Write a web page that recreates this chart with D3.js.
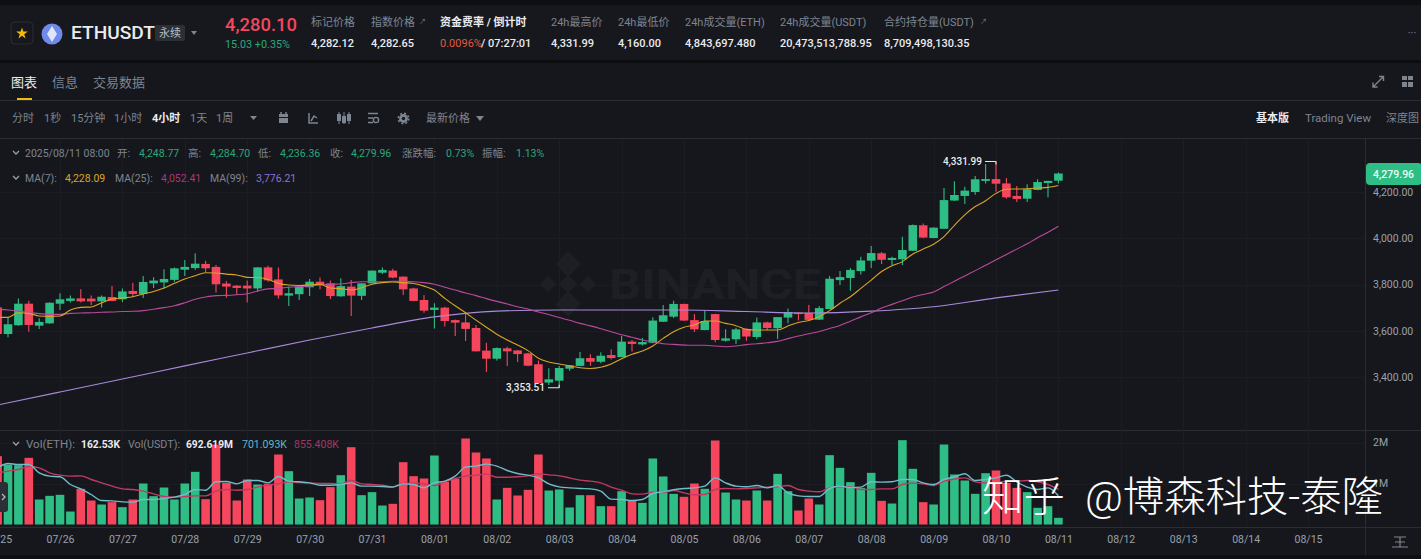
<!DOCTYPE html>
<html>
<head>
<meta charset="utf-8">
<script src="https://cdn.jsdelivr.net/npm/d3@7"></script>
<style>
html,body{margin:0;padding:0;background:#16171d;overflow:hidden}
svg{display:block}
text{font-family:Roboto,'Noto Sans CJK SC',sans-serif}
</style>
</head>
<body>
<div id="chart"></div>
<script>
// Data ======================================================
const opens = [3701,3586,3624,3717,3622,3632,3717,3729,3740,3739,3727,3746,3736,3772,3759,3805,3809,3820,3864,3871,
  3889,3876,3804,3795,3795,3783,3874,3822,3752,3758,3788,3812,3805,3749,3791,3751,3805,3851,3860,3834,
  3783,3733,3690,3700,3646,3636,3612,3514,3479,3524,3515,3502,3455,3376,3384,3436,3448,3482,3466,3495,
  3486,3553,3541,3548,3639,3661,3716,3646,3603,3672,3557,3563,3608,3573,3636,3611,3657,3678,3677,3648,
  3694,3819,3828,3858,3903,3935,3906,3909,3946,4056,4001,4041,4163,4183,4200,4248,4256,4237,4183,4171,
  4209,4239,4248.77];
const highs = [3705,3658,3740,3730,3654,3723,3762,3752,3779,3752,3752,3793,3783,3808,3837,3831,3866,3874,3906,3935,
  3903,3884,3815,3798,3817,3875,3881,3874,3791,3793,3824,3830,3817,3827,3819,3805,3861,3874,3868,3835,
  3786,3755,3719,3704,3649,3672,3625,3548,3528,3531,3517,3505,3471,3438,3448,3451,3508,3498,3507,3520,
  3577,3560,3569,3658,3711,3730,3717,3672,3687,3673,3606,3613,3609,3657,3639,3660,3696,3679,3711,3707,
  3837,3858,3871,3920,3966,3941,3920,4007,4060,4064,4047,4217,4246,4223,4269,4321,4331.99,4261,4226,4233,
  4255,4249,4284.70];
const lows = [3580,3572,3622,3596,3608,3630,3690,3722,3722,3711,3701,3728,3724,3747,3742,3785,3782,3812,3837,3863,
  3854,3765,3743,3756,3722,3769,3812,3740,3707,3733,3750,3779,3737,3747,3664,3733,3804,3845,3827,3755,
  3728,3678,3610,3618,3577,3556,3510,3422,3471,3448,3465,3447,3372,3365,3353.51,3427,3447,3449,3459,3476,
  3485,3510,3536,3546,3638,3655,3642,3595,3602,3550,3554,3543,3557,3563,3602,3564,3632,3644,3644,3647,
  3693,3798,3773,3843,3871,3889,3884,3884,3945,4000,4000,4040,4161,4148,4188,4237,4201,4171,4157,4157,
  4208,4177,4236.36];
const closes = [3586,3628,3717,3625,3638,3721,3736,3740,3727,3727,3747,3729,3770,3759,3811,3817,3824,3870,3876,3890,
  3870,3801,3791,3785,3783,3874,3818,3753,3762,3791,3812,3799,3750,3793,3752,3805,3860,3863,3830,3779,
  3729,3687,3700,3642,3635,3608,3511,3479,3525,3511,3499,3449,3373,3390,3439,3450,3481,3466,3492,3482,
  3553,3543,3551,3644,3667,3716,3644,3606,3642,3560,3567,3606,3575,3636,3612,3659,3681,3672,3647,3698,
  3825,3832,3863,3904,3936,3907,3915,3949,4057,4003,4046,4165,4187,4206,4255,4256,4236,4177,4170,4212,
  4243,4248,4279.96];
const ma7 = [3658,3658,3678,3675,3664,3662,3664,3690,3701,3703,3721,3737,3742,3747,3759,3770,3785,3805,3824,3838,
  3851,3850,3845,3841,3831,3830,3822,3805,3798,3796,3798,3801,3785,3782,3776,3786,3801,3808,3811,3808,
  3804,3793,3776,3740,3708,3678,3646,3615,3585,3560,3538,3514,3481,3465,3456,3448,3440,3437,3442,3456,
  3479,3498,3512,3534,3567,3596,3615,3625,3642,3642,3632,3622,3606,3603,3603,3603,3621,3636,3644,3661,
  3687,3719,3747,3783,3819,3856,3881,3899,3932,3953,3974,4007,4056,4101,4137,4162,4194,4212,4213,4214,
  4217,4220,4228.09];
const ma25 = [3693,3690,3685,3680,3674,3671,3671,3675,3677,3678,3680,3681,3683,3684,3687,3693,3700,3708,3721,3736,
  3746,3752,3753,3756,3760,3772,3781,3783,3788,3791,3794,3798,3801,3802,3808,3812,3812,3812,3814,3814,
  3812,3808,3801,3788,3776,3763,3752,3739,3727,3716,3704,3694,3681,3670,3657,3645,3632,3621,3609,3596,
  3583,3572,3560,3551,3544,3541,3538,3537,3537,3534,3531,3534,3540,3544,3548,3554,3566,3577,3587,3597,
  3610,3623,3641,3660,3678,3698,3714,3730,3746,3757,3768,3791,3814,3837,3860,3883,3907,3930,3953,3976,
  4002,4026,4052.41];
// MA(99) read every sixth candle
const ma99Index = [0,6,12,18,24,30,36,42,48,54,60,66,72,78,84,90,96,102];
const ma99 = [3279,3335,3391,3448,3504,3560,3612,3660,3685,3690,3690,3690,3683,3677,3685,3704,3742,3776.21];
const volumes = [1667,1463,1447,1626,610,699,724,317,870,585,488,545,423,610,1000,691,902,610,1000,1285,
  618,1951,1016,585,1098,976,992,1707,1301,634,659,593,911,1203,1886,715,789,463,504,1520,
  1179,1122,1683,1041,1114,2098,1756,1610,610,894,707,846,1707,829,854,415,715,715,447,447,
  813,585,528,1610,1171,748,675,1000,870,2049,780,610,585,829,585,1236,813,341,634,488,
  1691,1382,1033,894,1260,577,512,2057,1358,545,488,1951,1220,1073,748,1252,1317,1016,894,789,
  407,447,162.53];
const volMaShort = [1382,1488,1463,1463,1260,1179,1163,976,870,732,585,577,553,545,610,610,634,667,732,854,
  837,1041,1049,992,1073,1073,1016,1171,1057,1041,1016,959,959,976,1016,935,935,927,911,992,
  976,894,1016,1057,1179,1398,1423,1472,1423,1317,1244,1203,1138,992,919,894,878,870,813,618,
  610,585,610,756,797,846,878,894,935,1138,1016,935,919,951,894,951,772,699,683,683,
  878,935,902,911,1041,1033,1041,1098,1098,1016,976,1098,1163,1236,1073,1098,1138,1203,1041,911,
  854,894,701.093];
const volMaLong = [1260,1301,1341,1415,1382,1260,1203,1179,1187,1098,1016,935,870,854,813,748,683,667,683,699,
  699,813,854,837,854,911,959,992,1041,1024,1016,1000,1000,992,1081,992,976,959,919,1000,
  1008,992,951,1041,1122,1179,1203,1228,1154,1154,1163,1187,1236,1211,1187,1138,1081,1057,1016,911,
  837,748,740,789,780,829,772,724,732,854,878,870,878,894,911,919,951,854,813,797,
  894,919,919,854,854,870,870,976,1008,992,951,1057,1106,1138,1041,1016,1016,1057,1057,1073,
  1041,976,855.408];
const dateLabels = ["07/25","07/26","07/27","07/28","07/29","07/30","07/31","08/01","08/02","08/03","08/04",
  "08/05","08/06","08/07","08/08","08/09","08/10","08/11","08/12","08/13","08/14","08/15"];
const priceTicks = [3400,3600,3800,4000,4200];
const volTicks = [1000,2000];
const statLabels = ["标记价格","指数价格","资金费率 / 倒计时","24h最高价","24h最低价","24h成交量(ETH)","24h成交量(USDT)","合约持仓量(USDT)"];
const statValues = ["4,282.12","4,282.65","","4,331.99","4,160.00","4,843,697.480","20,473,513,788.95","8,709,498,130.35"];
const intervals = ["分时","1秒","15分钟","1小时","4小时","1天","1周"];
// ===========================================================

const W = 1421, H = 559;
const green = "#2ebd85", red = "#f6465d", dim = "#7d8591", light = "#eaecef", grid = "#1c1d23", rule = "#2a2d33";

const svg = d3.select("#chart").append("svg").attr("width", W).attr("height", H);

function label(x, y, str, o) {
  o = o || {};
  const t = svg.append("text").attr("x", x).attr("y", y)
    .attr("dominant-baseline", "central")
    .attr("font-size", o.size || 11)
    .attr("font-weight", o.weight || 400)
    .attr("fill", o.color || dim)
    .attr("text-anchor", o.anchor || "start")
    .text(str);
  if (o.w) t.attr("textLength", o.w).attr("lengthAdjust", "spacingAndGlyphs");
  return t;
}
function box(x, y, w, h, fill, r) {
  return svg.append("rect").attr("x", x).attr("y", y).attr("width", w).attr("height", h).attr("fill", fill).attr("rx", r || 0);
}
function stroke(d, color, width) {
  return svg.append("path").attr("d", d).attr("fill", "none").attr("stroke", color).attr("stroke-width", width || 1);
}

// Panels ====================================================
box(0, 0, W, H, "#16171d");
box(0, 0, W, 5, "#0e0f13");
box(0, 7, W, 53, "#17181e");
box(0, 60, W, 3, "#0c0d11");
box(0, 555, W, 4, "#0e0f13");
stroke("M0 100.5H1421", rule);
stroke("M0 138.5H1421", rule);
stroke("M0 430.5H1421", rule);
stroke("M0 527.5H1421", rule);
stroke("M1365.5 138V555", rule);

// Header ====================================================
box(11, 22, 22, 22, "none", 4).attr("stroke", rule);
svg.append("path").attr("d", d3.symbol(d3.symbolStar, 42)()).attr("transform", "translate(22,33.5)").attr("fill", "#f0b90b");
svg.append("circle").attr("cx", 52).attr("cy", 34).attr("r", 10.5).attr("fill", "#6f8ae8");
svg.append("path").attr("d", "M52 26L57 34L52 42L47 34Z").attr("fill", "#dfe5fb");
label(71, 32, "ETHUSDT", {size: 19, weight: 500, color: light, w: 84});
box(155, 25, 30, 16, "#2b2f36", 2);
label(170, 33, "永续", {size: 11, color: "#b7bdc6", anchor: "middle"});
svg.append("path").attr("d", "M191 31h6l-3 4z").attr("fill", dim);
label(225, 24, "4,280.10", {size: 19, weight: 500, color: red, w: 72});
label(225, 44, "15.03 +0.35%", {size: 11, color: "#2aa87a", w: 65});

const statX = [311, 371, 440, 551, 618, 685, 780, 884];
statLabels.forEach((s, i) => {
  label(statX[i], 22, s, i == 2 ? {color: light, weight: 700} : {});
  if (statValues[i]) label(statX[i], 43, statValues[i], {color: light, weight: 500});
});
label(440, 43, "0.0096%", {color: "#e0593f"});
label(481, 43, "/ 07:27:01", {color: light, weight: 500});
label(419, 22, "↗", {size: 7});
label(980, 22, "↗", {size: 7});
label(1412, 33, "···", {size: 11, anchor: "middle"});

// Tabs ======================================================
label(11, 82, "图表", {size: 13, color: light});
label(52, 82, "信息", {size: 13});
label(93, 82, "交易数据", {size: 13});
box(17, 98, 15, 2, "#f0b90b");
stroke("M1373 87L1383 77M1379 76.5H1383.5V81M1373 82.5V87H1377.5", dim, 1.4);
box(1402, 76, 5, 4, dim); box(1408, 76, 5, 4, dim); box(1402, 82, 5, 5, dim); box(1408, 82, 5, 5, dim);

// Toolbar ===================================================
const intervalX = [12, 44, 71, 114, 152, 190, 216];
intervals.forEach((s, i) => label(intervalX[i], 118, s, i == 4 ? {color: light, weight: 700} : {}));
svg.append("path").attr("d", "M250 116h7l-3.5 4z").attr("fill", dim);
box(279, 114, 9, 9, dim);
stroke("M279 117.5H288", "#16171d", 1);
stroke("M281 112V114M286 112V114", dim, 1.5);
stroke("M309 113V123H318M311 121L314 116L317 118", dim, 1.5);
[339, 344, 349].forEach((x, i) => { box(x - 2, 114 + (i % 2) * 2, 4, 7, dim); stroke(`M${x} 112V124`, dim, 1); });
stroke("M368 113.5H378M368 118H373M368 122.5H373", dim, 1.5);
svg.append("circle").attr("cx", 376).attr("cy", 120).attr("r", 2.6).attr("fill", "none").attr("stroke", dim).attr("stroke-width", 1.4);
svg.append("circle").attr("cx", 403.5).attr("cy", 118.5).attr("r", 5.2).attr("fill", "none").attr("stroke", dim).attr("stroke-width", 1.6).attr("stroke-dasharray", "2 2.08");
svg.append("circle").attr("cx", 403.5).attr("cy", 118.5).attr("r", 4.4).attr("fill", dim);
svg.append("circle").attr("cx", 403.5).attr("cy", 118.5).attr("r", 1.7).attr("fill", "#16171d");
label(426, 118, "最新价格");
svg.append("path").attr("d", "M476 116h8l-4 5z").attr("fill", dim);
label(1256, 118, "基本版", {color: light, weight: 700});
label(1305, 118, "Trading View", {w: 66});
label(1386, 118, "深度图");

// Scales ====================================================
const x = d3.scaleLinear().domain([0, 102]).range([-2.4, 1058.4]);
const y = d3.scaleLinear().domain([3400, 4200]).range([377, 192]);
const yVol = d3.scaleLinear().domain([0, 2000]).range([524.5, 442.5]);
const dateTicks = dateLabels.map((d, i) => i * 6);

// Grid ======================================================
const gridLayer = svg.append("g").attr("stroke", grid);
gridLayer.selectAll(".v").data(dateTicks).enter().append("line")
  .attr("x1", d => Math.round(x(d)) + 0.5).attr("x2", d => Math.round(x(d)) + 0.5).attr("y1", 139).attr("y2", 527);
gridLayer.selectAll(".h").data(priceTicks).enter().append("line")
  .attr("x1", 0).attr("x2", 1365).attr("y1", d => Math.round(y(d)) + 0.5).attr("y2", d => Math.round(y(d)) + 0.5);
gridLayer.selectAll(".hv").data(volTicks).enter().append("line")
  .attr("x1", 0).attr("x2", 1365).attr("y1", d => Math.round(yVol(d)) + 0.5).attr("y2", d => Math.round(yVol(d)) + 0.5);

// Watermark =================================================
const mark = svg.append("g").attr("fill", "#1e1f25").attr("transform", "translate(568,284)");
[[0, -20, 8], [-20, 0, 5], [20, 0, 5], [0, 20, 8], [0, 0, 6]].forEach(p => {
  mark.append("path").attr("d", `M${p[0]} ${p[1] - p[2] * 1.6}L${p[0] + p[2] * 1.6} ${p[1]}L${p[0]} ${p[1] + p[2] * 1.6}L${p[0] - p[2] * 1.6} ${p[1]}Z`);
});
label(609, 284, "BINANCE", {size: 42, weight: 700, color: "#1e1f25", w: 212});

// Volume ====================================================
const barWidth = 8.6;
svg.selectAll(".vol").data(volumes).enter().append("rect")
  .attr("x", (d, i) => x(i) - barWidth / 2)
  .attr("width", barWidth)
  .attr("y", d => yVol(d))
  .attr("height", d => yVol(0) - yVol(d))
  .attr("fill", (d, i) => closes[i] >= opens[i] ? green : red);

const volLine = d3.line().x((d, i) => x(i)).y(d => yVol(d)).curve(d3.curveMonotoneX);
svg.append("path").datum(volMaLong).attr("d", volLine).attr("fill", "none").attr("stroke", "#c23a62").attr("stroke-width", 1.4);
svg.append("path").datum(volMaShort).attr("d", volLine).attr("fill", "none").attr("stroke", "#6fbccb").attr("stroke-width", 1.4);

// Candles ===================================================
const candles = svg.append("g").selectAll("g").data(opens).enter().append("g")
  .attr("fill", (d, i) => closes[i] >= d ? green : red)
  .attr("stroke", (d, i) => closes[i] >= d ? green : red);
candles.append("line")
  .attr("x1", (d, i) => x(i)).attr("x2", (d, i) => x(i))
  .attr("y1", (d, i) => y(highs[i])).attr("y2", (d, i) => y(lows[i]))
  .attr("stroke-width", 1.1);
candles.append("rect")
  .attr("stroke", "none")
  .attr("x", (d, i) => x(i) - barWidth / 2)
  .attr("width", barWidth)
  .attr("y", (d, i) => y(Math.max(d, closes[i])))
  .attr("height", (d, i) => Math.max(1, Math.abs(y(d) - y(closes[i]))));

// Moving averages ===========================================
const maLine = d3.line().x((d, i) => x(i)).y(d => y(d)).curve(d3.curveMonotoneX);
svg.append("path").datum(ma99).attr("fill", "none").attr("stroke", "#a78ad8").attr("stroke-width", 1.1)
  .attr("d", d3.line().x((d, i) => x(ma99Index[i])).y(d => y(d)).curve(d3.curveMonotoneX));
svg.append("path").datum(ma25).attr("d", maLine).attr("fill", "none").attr("stroke", "#bb4a9c").attr("stroke-width", 1.1);
svg.append("path").datum(ma7).attr("d", maLine).attr("fill", "none").attr("stroke", "#d9a626").attr("stroke-width", 1.1);

// High / low flags ==========================================
const hiI = highs.indexOf(d3.max(highs)), loI = lows.indexOf(d3.min(lows));
stroke(`M985 ${y(highs[hiI])}H${x(hiI)}V${y(highs[hiI]) + 3}`, "#eaecef");
label(982, y(highs[hiI]), d3.format(",.2f")(highs[hiI]), {size: 10, color: light, weight: 500, anchor: "end"});
stroke(`M548 ${y(lows[loI])}H${x(loI)}V${y(lows[loI]) - 3}`, "#eaecef");
label(545, y(lows[loI]), d3.format(",.2f")(lows[loI]), {size: 10, color: light, weight: 500, anchor: "end"});

// Axes ======================================================
const priceAxis = svg.append("g").attr("transform", "translate(1366,0)")
  .call(d3.axisRight(y).tickValues(priceTicks).tickFormat(d3.format(",.2f")).tickSize(0).tickPadding(7));
const volAxis = svg.append("g").attr("transform", "translate(1366,0)")
  .call(d3.axisRight(yVol).tickValues(volTicks).tickFormat(d => d / 1000 + "M").tickSize(0).tickPadding(7));
const dateAxis = svg.append("g").attr("transform", "translate(0,534)")
  .call(d3.axisBottom(x).tickValues(dateTicks).tickFormat((d, i) => dateLabels[i]).tickSize(0).tickPadding(2));
[priceAxis, volAxis, dateAxis].forEach(a => {
  a.select(".domain").remove();
  a.selectAll("text").attr("fill", "#9aa1ac").attr("font-size", 10.5).attr("font-family", "Roboto,sans-serif");
});
box(1366, 163, 56, 22, green, 4);
label(1373, 174, d3.format(",.2f")(closes[102]), {size: 10.5, color: "#eafff6", weight: 500});
stroke("M1394 537H1406M1395 542H1405M1392 547H1408M1400 537V547", dim, 1.2);

// Legends ===================================================
const fmt = d3.format(",.2f");
function chevron(cy) { stroke(`M13 ${cy - 2}L16 ${cy + 1}L19 ${cy - 2}`, "#9aa1ac", 1.3); }
chevron(153); chevron(178); chevron(444);
label(25, 153, "2025/08/11 08:00", {size: 10.5});
[[117, "开:", 139, opens[102]], [188, "高:", 210, highs[102]], [258, "低:", 280, lows[102]], [330, "收:", 351, closes[102]]]
  .forEach(r => { label(r[0], 153, r[1], {size: 10.5}); label(r[2], 153, fmt(r[3]), {size: 10.5, color: "#2aa87a"}); });
label(402, 153, "涨跌幅:", {size: 10.5});
label(446, 153, "0.73%", {size: 10.5, color: "#2aa87a"});
label(482, 153, "振幅:", {size: 10.5});
label(516, 153, "1.13%", {size: 10.5, color: "#2aa87a"});
label(25, 178, "MA(7):", {size: 10.5});
label(65, 178, fmt(ma7[102]), {size: 10.5, color: "#d9a626"});
label(115, 178, "MA(25):", {size: 10.5});
label(161, 178, fmt(ma25[102]), {size: 10.5, color: "#a8387c"});
label(210, 178, "MA(99):", {size: 10.5});
label(256, 178, fmt(ma99[ma99.length - 1]), {size: 10.5, color: "#8f70d8"});
label(26, 444, "Vol(ETH):", {size: 11, w: 49});
label(81, 444, "162.53K", {size: 11, color: light, weight: 700, w: 39});
label(128, 444, "Vol(USDT):", {size: 11, w: 52});
label(186, 444, "692.619M", {size: 11, color: light, weight: 700, w: 47});
label(242, 444, "701.093K", {size: 11, color: "#5fb7c9", w: 45});
label(294, 444, "855.408K", {size: 11, color: "#a03a5f", w: 45});

// Collapse tab
box(-4, 482, 12, 30, "#2b2f36", 3);
stroke("M2 494L5 497L2 500", "#b7bdc6", 1.2);

// Zhihu stamp ===============================================
label(982, 497, "知乎", {size: 41, weight: 300, color: "#fff", w: 83});
label(1085, 497, "@博森科技-泰隆", {size: 41, weight: 300, color: "#fff", w: 298});
</script>
</body>
</html>
